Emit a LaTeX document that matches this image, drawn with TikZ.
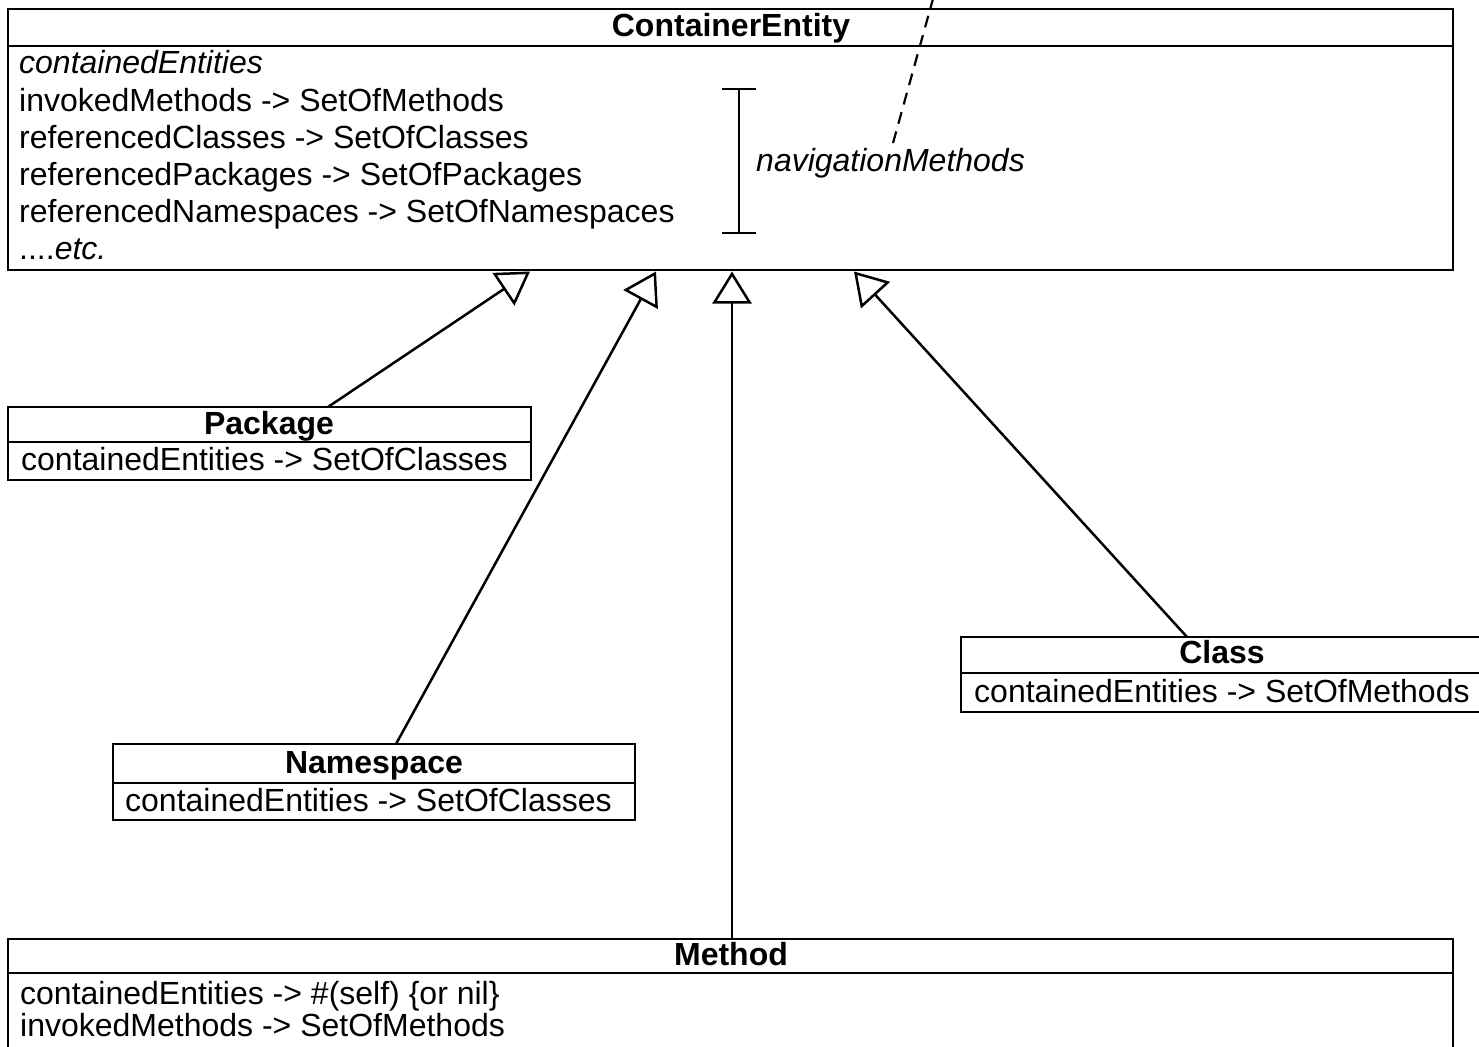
\documentclass[tikz,border=0pt]{standalone}
\usepackage{fontspec}
\setmainfont{Liberation Sans}
\usetikzlibrary{arrows.meta}
\begin{document}
\begin{tikzpicture}[x=1pt,y=-1pt,
  box/.style={draw,line width=2.8pt,inner sep=0pt,outer sep=0pt,anchor=north west},
  ttl/.style={font=\fontsize{32}{37}\selectfont\bfseries,anchor=base,inner sep=0pt},
  attr/.style={font=\fontsize{32}{37}\selectfont,anchor=base west,inner sep=0pt},
  divider/.style={line width=2.8pt},
  gen/.style={line width=2.5pt,-{Triangle[open,length=32pt,width=39pt,line width=2.5pt]}},
  brk/.style={line width=2.5pt},
  note/.style={line width=2.2pt,dash pattern=on 12pt off 8pt}]
\clip (0,0) rectangle (1479,1046);
\fill[white] (0,0) rectangle (1479,1046);

% ContainerEntity
\node[box,minimum width=1445pt,minimum height=261pt] (ce) at (8,9) {};
\draw[divider] (8,46) -- (1453,46);
\node[ttl] (cet) at (731,37) {ContainerEntity};
\node[attr] (ce1) at (19,74) {\itshape containedEntities};
\node[attr] (ce2) at (19,111) {invokedMethods -> SetOfMethods};
\node[attr] (ce3) at (19,148) {referencedClasses -> SetOfClasses};
\node[attr] (ce4) at (19,185) {referencedPackages -> SetOfPackages};
\node[attr] (ce5) at (19,222) {referencedNamespaces -> SetOfNamespaces};
\node[attr] (ce6) at (19,259) {....\textit{etc.}};

% bracket and note
\coordinate (bt) at (739,89);
\coordinate (bb) at (739,233);
\draw[brk] (bt) -- (bb);
\draw[brk] (722,89) -- (756,89);
\draw[brk] (722,233) -- (756,233);
\node[attr] (nav) at (756,171) {\itshape navigationMethods};
\coordinate (noteA) at (893,143);
\coordinate (noteB) at (936,-12);
\draw[note] (noteA) -- (noteB);

% Package
\node[box,minimum width=523pt,minimum height=73pt] (pkg) at (8,407) {};
\draw[divider] (8,442) -- (531,442);
\node[ttl] (pkgt) at (269,434) {Package};
\node[attr] (pkg1) at (21,470) {containedEntities -> SetOfClasses};

% Namespace
\node[box,minimum width=522pt,minimum height=76pt] (ns) at (113,744) {};
\draw[divider] (113,783) -- (635,783);
\node[ttl] (nst) at (374,773) {Namespace};
\node[attr] (ns1) at (125,811) {containedEntities -> SetOfClasses};

% Class
\node[box,minimum width=522pt,minimum height=75pt] (cls) at (961,637) {};
\draw[divider] (961,673) -- (1483,673);
\node[ttl] (clst) at (1222,663) {Class};
\node[attr] (cls1) at (974,702) {containedEntities -> SetOfMethods};

% Method
\node[box,minimum width=1445pt,minimum height=140pt] (mth) at (8,939) {};
\draw[divider] (8,973) -- (1453,973);
\node[ttl] (mtht) at (731,965) {Method};
\node[attr] (mth1) at (20,1004) {containedEntities -> \#(self) \{or nil\}};
\node[attr] (mth2) at (20,1036) {invokedMethods -> SetOfMethods};

% generalisation connectors
\coordinate (pkgtop) at (328,407);
\coordinate (nstop) at (396,744);
\coordinate (mthtop) at (732,939);
\coordinate (clstop) at (1187,637);
\coordinate (ceA) at (530,271.5);
\coordinate (ceB) at (656,271.5);
\coordinate (ceC) at (732,271.5);
\coordinate (ceD) at (854,271.5);
\draw[gen] (pkgtop) -- (ceA);
\draw[gen] (nstop) -- (ceB);
\draw[gen] (mthtop) -- (ceC);
\draw[gen] (clstop) -- (ceD);
\end{tikzpicture}
\end{document}
